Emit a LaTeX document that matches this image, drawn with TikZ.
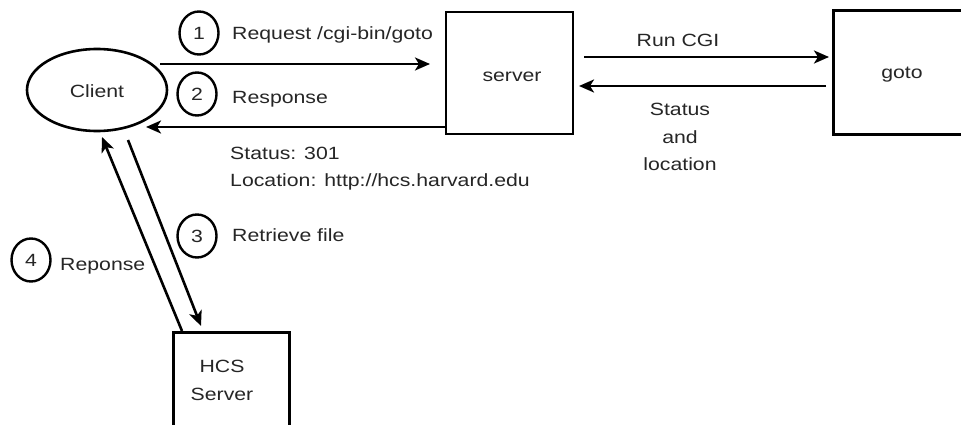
\documentclass[tikz,border=0pt]{standalone}
\usepackage{fontspec}
\setmainfont{Liberation Sans}
\usetikzlibrary{shapes.geometric,arrows.meta}
\newcommand{\sx}[1]{\scalebox{1.2}[1]{#1}}
\begin{document}
\begin{tikzpicture}[x=1pt,y=-1pt,
  every node/.style={font=\fontsize{17.7}{27.5}\selectfont, text=black!85},
  ln/.style={line width=2.6pt},
  arr/.style={ln,-{Stealth[length=15pt,width=13pt,inset=4pt]}},
  numc/.style={ellipse,draw,line width=2.4pt,minimum width=39pt,minimum height=43pt,inner sep=0pt},
  txt/.style={xscale=1.2,inner sep=0pt},
  box/.style={draw,line width=2.6pt,inner sep=0pt}]
\useasboundingbox (0,0) rectangle (961,425);
\clip (0,0) rectangle (961,425);
\fill[white] (0,0) rectangle (961,425);
% shapes
\node[ellipse,draw,line width=2.6pt,minimum width=140pt,minimum height=82pt,inner sep=0pt] (client) at (97,90) {};
\node[txt,anchor=base] (clientt) at (97,98) {Client};
\node[box,minimum width=127pt,minimum height=122pt] (srv) at (509.5,73) {};
\node[txt,anchor=base] (srvt) at (512,82) {server};
\node[box,minimum width=200pt,minimum height=124pt,anchor=north west] (goto) at (832,9) {};
\node[txt,anchor=base] (gotot) at (902,79) {goto};
\node[box,minimum width=116pt,minimum height=120pt,anchor=north west] (hcs) at (172,331) {};
\node[txt,anchor=base,align=center] (hcst) at (222,400) {HCS\\Server};
% numbered circles
\node[numc] (n1) at (199,33) {\sx{1}};
\node[numc] (n2) at (197,94) {\sx{2}};
\node[numc] (n3) at (197,236) {\sx{3}};
\node[numc] (n4) at (31,260) {\sx{4}};
% labels
\node[txt,anchor=base west] (l1) at (232,40) {Request /cgi-bin/goto};
\node[txt,anchor=base west] (l2) at (232,104) {Response};
\node[txt,anchor=base west] (l3) at (232,241) {Retrieve file};
\node[txt,anchor=base west] (l4) at (60,270) {Reponse};
\node[txt,anchor=base west,align=left] (st) at (230,186.5) {Status: 301\\Location: http://hcs.harvard.edu};
\node[txt,anchor=base] (run) at (678,47) {Run CGI};
\node[txt,anchor=base,align=center] (sl) at (680,171) {Status\\and\\location};
% connector endpoints
\coordinate (a1s) at (160,64);  \coordinate (a1e) at (430,64);
\coordinate (a2s) at (446,127); \coordinate (a2e) at (146,127);
\coordinate (a3s) at (584,57);  \coordinate (a3e) at (829,57);
\coordinate (a4s) at (826,86);  \coordinate (a4e) at (579,86);
\coordinate (a5s) at (182,331); \coordinate (a5e) at (102,137);
\coordinate (a6s) at (128,140); \coordinate (a6e) at (201,326);
\draw[arr] (a1s) -- (a1e);
\draw[arr] (a2s) -- (a2e);
\draw[arr] (a3s) -- (a3e);
\draw[arr] (a4s) -- (a4e);
\draw[arr] (a5s) -- (a5e);
\draw[arr] (a6s) -- (a6e);
\end{tikzpicture}
\end{document}
